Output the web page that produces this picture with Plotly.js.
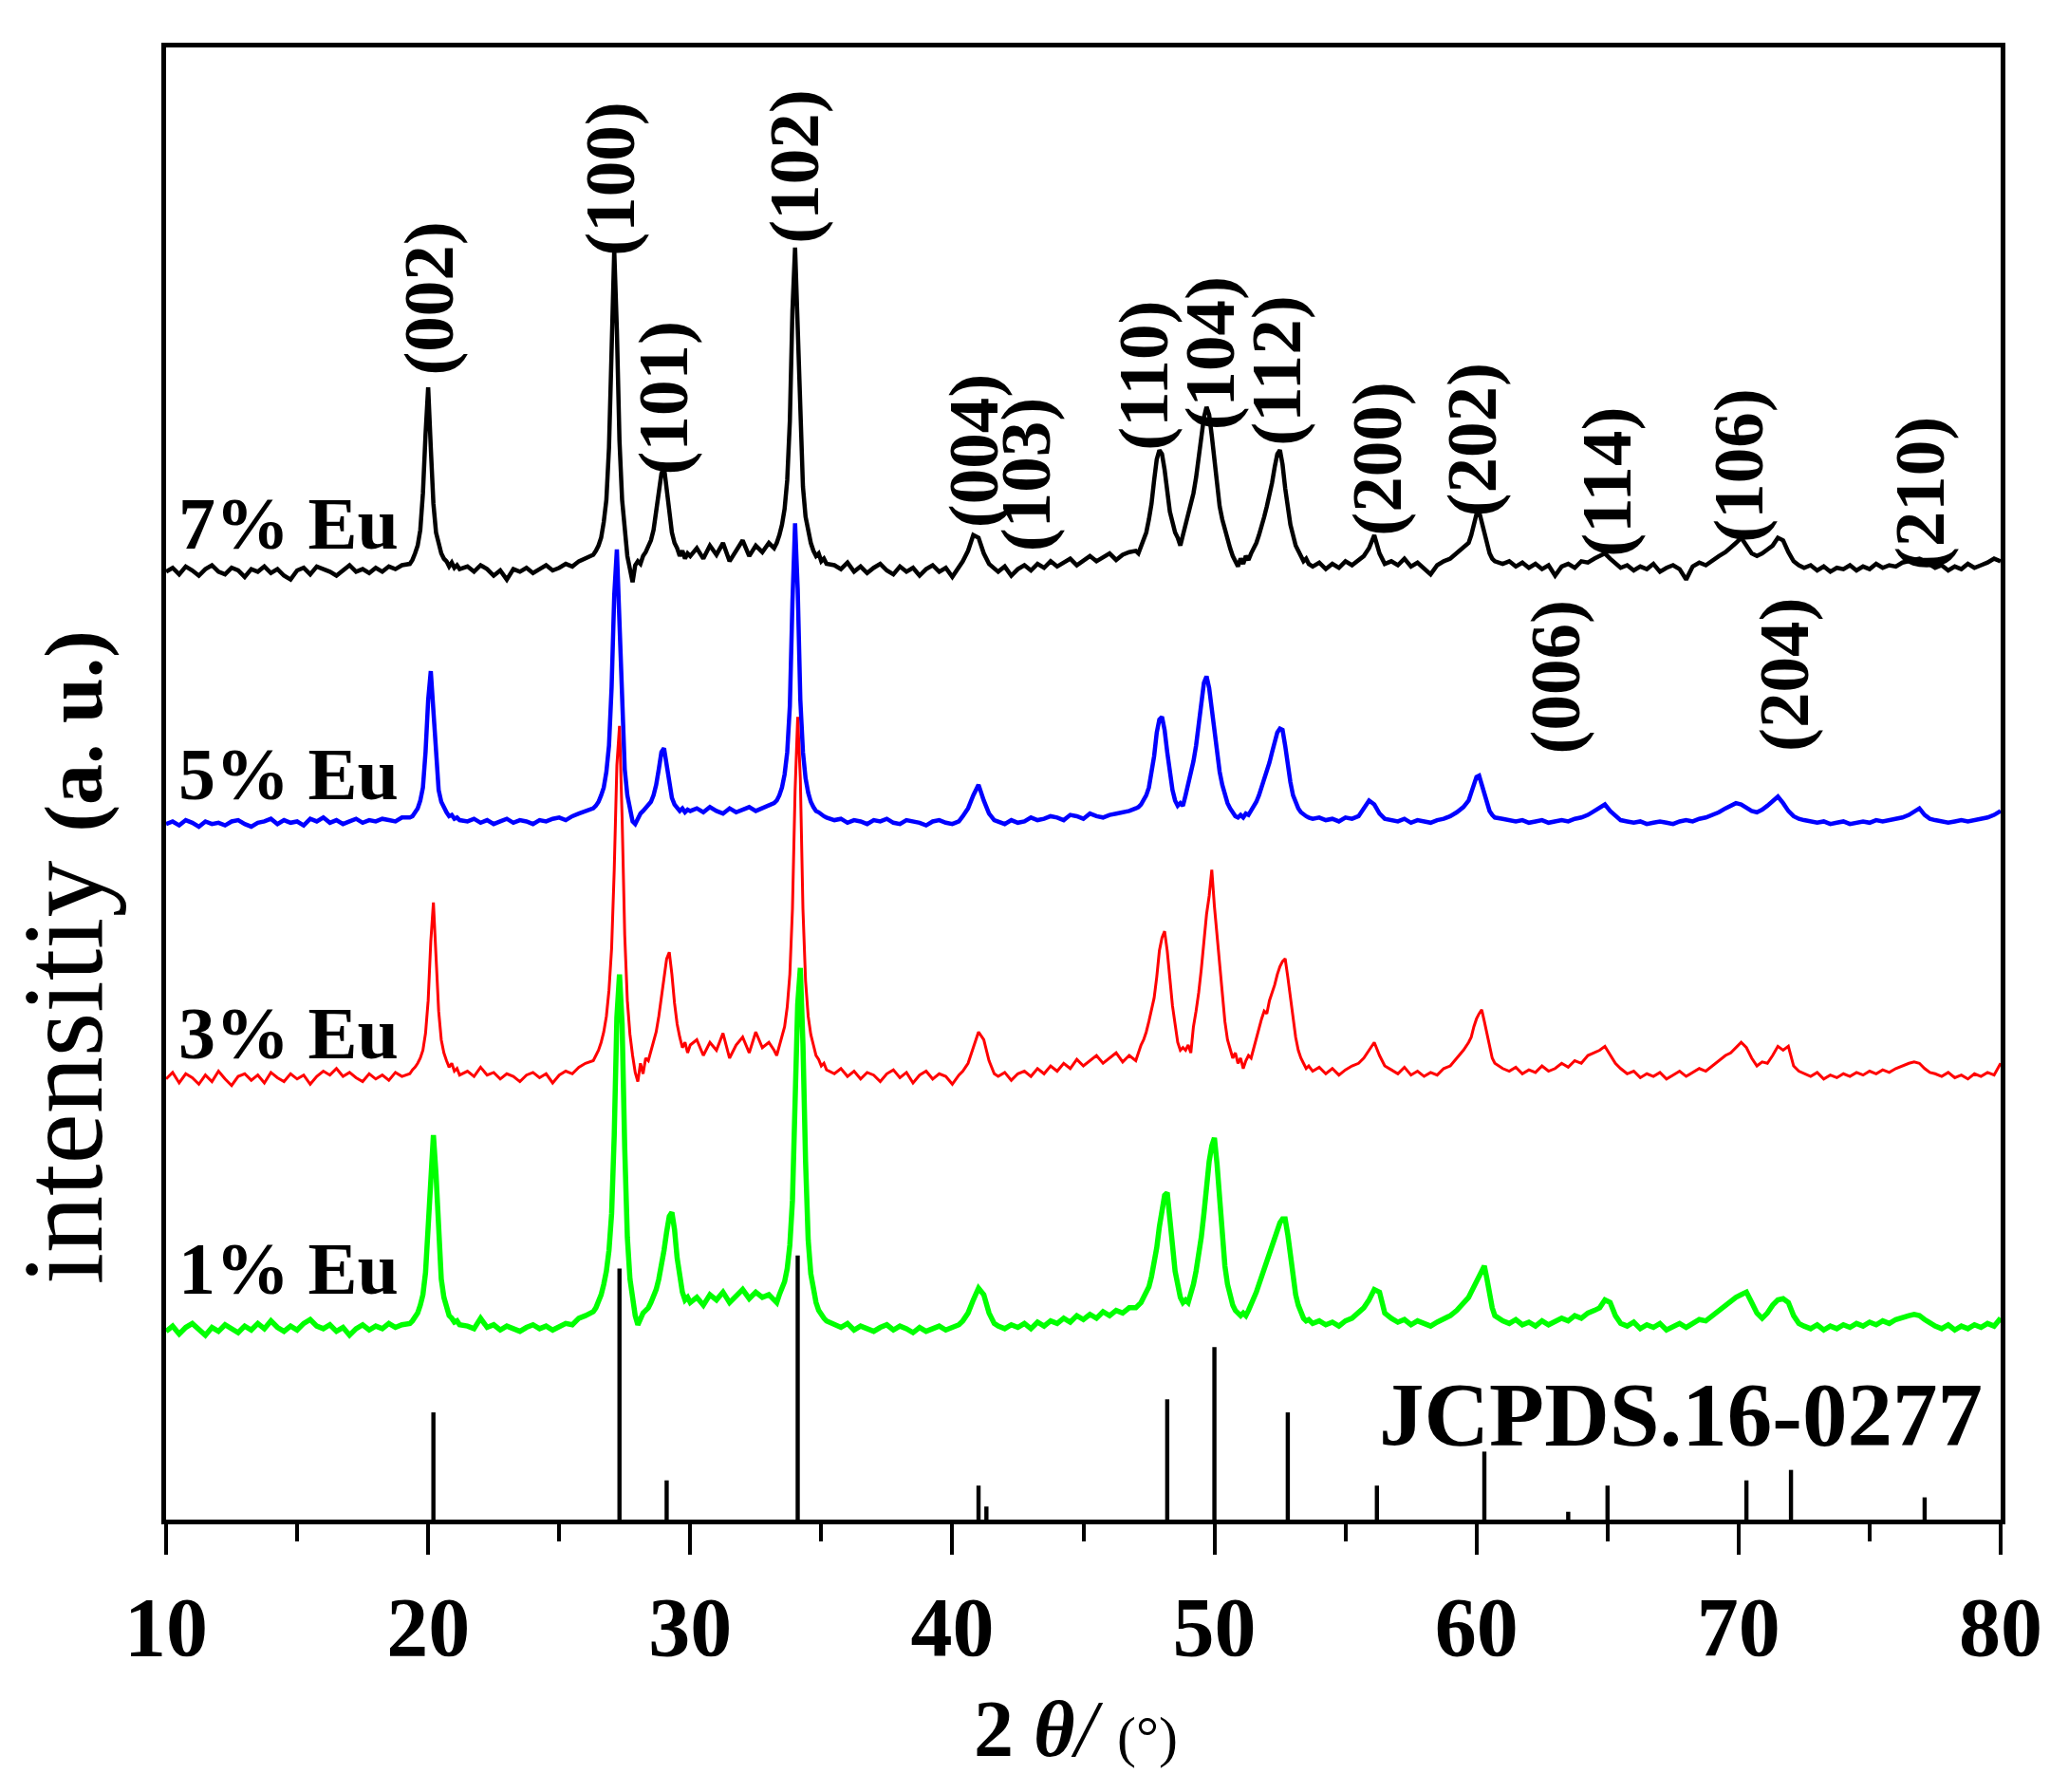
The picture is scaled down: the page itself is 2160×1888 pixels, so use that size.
<!DOCTYPE html>
<html>
<head>
<meta charset="utf-8">
<script src="https://cdn.plot.ly/plotly-3.0.1.min.js"></script>
<style>
  html, body { margin: 0; padding: 0; background: #fff; }
  #xrd { width: 2160px; height: 1888px; }
</style>
</head>
<body>
<div id="xrd"></div>
<script>
// 2theta grid (deg), denser around the reflections
const twoTheta = [
  10, 10.25, 10.5, 10.75, 11, 11.25, 11.5, 11.75, 12, 12.25, 12.5, 12.75, 13, 13.25, 13.5, 13.75, 14, 14.25, 14.5, 14.75, 15, 15.25, 15.5, 15.75, 16, 16.25, 16.5, 16.75, 17, 17.25, 17.5, 17.75, 18, 18.25, 18.5, 18.75, 19,
  19.3, 19.4, 19.5, 19.6, 19.7, 19.8, 19.9, 20, 20.1, 20.2, 20.3, 20.4, 20.5, 20.6, 20.7, 20.8, 20.9, 21, 21.1, 21.2,
  21.5, 21.75, 22, 22.25, 22.5, 22.75, 23, 23.25, 23.5, 23.75, 24, 24.25, 24.5, 24.75, 25, 25.25, 25.5, 25.75, 26,
  26.3, 26.4, 26.5, 26.6, 26.7, 26.8, 26.9, 27, 27.1, 27.2, 27.3, 27.4, 27.5, 27.6, 27.7, 27.8, 27.9, 28, 28.1, 28.2, 28.3, 28.4, 28.5, 28.6, 28.7, 28.8, 28.9, 29, 29.1, 29.2, 29.3, 29.4, 29.5, 29.6, 29.7, 29.8, 29.9, 30,
  30.25, 30.5, 30.75, 31, 31.25, 31.5, 31.75, 32, 32.25, 32.5, 32.75, 33,
  33.2, 33.3, 33.4, 33.5, 33.6, 33.7, 33.8, 33.9, 34, 34.1, 34.2, 34.3, 34.4, 34.5, 34.6, 34.7, 34.8, 34.9, 35, 35.1, 35.2,
  35.5, 35.75, 36, 36.25, 36.5, 36.75, 37, 37.25, 37.5, 37.75, 38, 38.25, 38.5, 38.75, 39, 39.25, 39.5, 39.75, 40, 40.25,
  40.4, 40.6, 40.8, 41, 41.2, 41.4, 41.6,
  41.75, 42, 42.25, 42.5, 42.75, 43, 43.25, 43.5, 43.75, 44, 44.25, 44.5, 44.75, 45, 45.25, 45.5, 45.75, 46, 46.25, 46.5, 46.75,
  47, 47.1, 47.2, 47.3, 47.4, 47.5, 47.6, 47.7, 47.8, 47.9, 48, 48.1, 48.2, 48.3, 48.4, 48.5, 48.6, 48.7, 48.8, 48.9,
  49, 49.1, 49.2, 49.3, 49.4, 49.5, 49.6, 49.7, 49.8, 49.9, 50, 50.1, 50.2, 50.3, 50.4, 50.5, 50.6, 50.7, 50.8, 50.9,
  51, 51.1, 51.2, 51.3, 51.4, 51.5, 51.6, 51.7, 51.8, 51.9, 52, 52.1, 52.2, 52.3, 52.4, 52.5, 52.6, 52.7, 52.8, 52.9,
  53, 53.1, 53.2, 53.3, 53.4, 53.5, 53.6,
  53.75, 54, 54.25, 54.5, 54.75, 55, 55.25, 55.5,
  55.7, 55.9, 56.1, 56.3, 56.5,
  56.75, 57, 57.25, 57.5, 57.75, 58, 58.25, 58.5, 58.75, 59, 59.25, 59.5,
  59.7, 59.8, 59.9, 60, 60.1, 60.2, 60.3, 60.4, 60.5, 60.6, 60.7,
  61, 61.25, 61.5, 61.75, 62, 62.25, 62.5, 62.75, 63, 63.25, 63.5, 63.75, 64, 64.25, 64.5,
  64.7, 64.9, 65.1, 65.3,
  65.5, 65.75, 66, 66.25, 66.5, 66.75, 67, 67.25, 67.5, 67.75, 68, 68.25, 68.5, 68.75, 69, 69.25, 69.5,
  69.7, 69.9, 70.1, 70.3, 70.5, 70.7, 70.9, 71.1, 71.3, 71.5, 71.7, 71.9, 72.1, 72.3,
  72.5, 72.75, 73, 73.25, 73.5, 73.75, 74, 74.25, 74.5, 74.75, 75, 75.25, 75.5, 75.75, 76, 76.25, 76.5,
  76.7, 76.9, 77.1, 77.3,
  77.5, 77.75, 78, 78.25, 78.5, 78.75, 79, 79.25, 79.5, 79.75, 80
];

// intensity above each pattern's own baseline (a.u.)
const eu7 = [
  0,3,-2,4,1,-3,2,5,0,-2,3,1,-4,2,0,4,-1,2,-3,-6,1,3,-2,4,2,0,-3,1,5,0,2,-1,3,0,4,2,5,
  6,9,14,20,32,60,105,141,95,52,30,20,14,10,8,4,7,3,5,2,
  4,0,5,2,-3,1,-6,2,0,3,-1,2,5,1,3,6,4,8,10,
  13,16,20,26,38,55,95,170,246,185,100,55,30,12,2,-8,5,8,6,12,15,20,24,32,45,62,75,80,62,42,30,22,18,12,16,10,14,12,
  18,10,20,13,22,8,16,24,12,20,15,22,
  18,22,28,36,48,70,115,200,248,190,110,65,42,30,22,16,12,14,8,10,6,
  5,2,7,0,4,-1,3,6,1,-2,4,0,3,-3,2,5,0,3,-4,4,
  8,16,28,26,14,6,2,
  0,4,-3,2,5,1,6,3,8,4,7,10,5,9,12,8,11,14,9,13,15,
  16,14,20,24,30,40,52,70,86,93,90,78,60,46,38,30,26,20,28,36,
  44,52,60,72,88,105,118,126,120,104,84,66,50,40,32,24,18,12,8,4,
  10,6,12,9,14,18,22,28,34,42,50,58,68,80,90,93,82,64,48,36,
  28,20,16,12,8,10,6,
  4,7,2,6,3,8,5,9,
  12,18,28,14,6,
  8,5,10,4,7,3,-2,5,8,10,14,18,
  22,28,36,44,46,38,28,20,14,10,8,
  6,8,4,7,3,6,2,5,-3,4,6,3,8,7,10,
  12,14,10,6,
  3,5,1,4,2,6,0,3,5,2,-6,4,7,5,9,12,15,
  18,22,26,20,14,12,14,17,20,26,24,15,8,5,
  3,5,1,4,0,3,2,5,1,4,2,6,3,5,4,7,8,
  9,10,8,5,
  3,5,1,4,2,6,3,5,7,10,8
];

const eu5 = [
  0,2,-1,3,1,-2,2,0,1,-1,2,3,0,-2,1,2,4,0,3,1,2,-1,4,2,5,1,3,0,2,4,1,3,2,4,3,2,5,
  5,6,9,12,18,28,55,95,117,85,45,26,17,12,9,6,7,4,5,3,
  2,4,1,3,0,2,4,1,3,2,0,3,2,4,5,3,6,8,10,
  12,14,17,22,28,40,60,105,175,210,150,80,42,22,10,2,0,4,8,10,12,14,17,22,30,42,55,58,45,30,20,15,12,10,12,9,11,10,
  12,9,13,10,8,12,9,11,13,10,12,14,
  16,18,22,28,38,55,90,170,230,180,95,55,35,24,17,13,10,9,7,6,5,
  3,4,1,3,2,0,3,2,4,1,0,3,2,1,-1,2,3,1,0,2,
  6,12,22,30,18,8,3,
  2,0,3,1,2,5,3,4,6,5,3,7,6,4,8,6,5,7,8,9,10,
  12,13,15,18,22,28,38,52,70,80,82,72,55,38,26,18,14,16,14,22,
  30,38,48,60,76,92,108,113,104,88,70,54,40,30,22,16,12,9,6,5,
  7,5,8,7,10,13,17,22,28,34,40,47,55,63,70,73,72,60,44,32,
  22,16,12,9,7,6,5,
  4,5,3,4,2,5,4,6,
  12,18,15,8,4,
  3,2,4,1,3,2,1,3,4,6,9,13,
  18,24,30,36,37,30,22,15,10,7,5,
  4,3,2,3,1,2,3,1,2,3,2,4,5,7,10,
  13,15,10,6,
  3,2,1,2,0,1,2,1,0,2,3,2,4,5,7,9,12,
  14,16,15,12,10,9,11,14,18,21,16,10,6,4,
  3,2,1,2,0,1,2,0,1,2,1,3,2,3,4,5,7,
  10,12,7,4,
  3,2,1,2,3,2,3,4,5,7,10
];

const eu3 = [
  0,5,-3,4,1,-4,3,-2,6,0,-5,2,4,-1,3,-3,5,1,-2,4,0,3,-4,2,6,3,8,2,5,1,-2,4,0,3,-1,5,2,
  4,7,9,12,16,22,35,60,105,135,95,52,30,20,14,9,12,6,8,3,
  6,2,9,3,5,0,4,2,-2,3,5,1,4,-3,3,6,4,9,12,
  14,18,22,28,36,48,68,100,160,240,270,200,110,60,34,18,5,-2,12,4,16,14,22,28,36,48,62,78,92,97,80,58,42,32,24,28,20,26,
  30,18,28,22,35,16,26,32,20,36,24,28,
  22,18,26,32,40,55,80,130,220,277,230,130,75,48,34,26,18,15,10,12,7,
  4,8,2,6,0,5,3,-2,4,7,1,5,-3,3,6,0,4,2,-4,3,
  6,12,24,36,30,14,4,
  2,5,-1,4,6,2,8,4,10,6,12,8,15,10,14,18,12,16,20,13,18,
  14,20,26,30,36,44,52,62,78,98,108,113,98,75,56,42,28,22,24,22,
  26,20,40,52,66,84,108,126,140,160,132,110,84,62,44,30,22,16,20,12,
  16,8,14,18,16,24,30,38,46,52,50,60,66,72,80,86,90,92,78,62,
  46,32,22,16,12,8,10,
  6,9,4,8,3,7,10,12,
  16,22,28,18,10,
  7,4,9,3,6,2,5,3,8,10,16,22,
  28,32,40,46,50,53,44,34,24,16,12,
  8,6,9,4,7,5,10,6,8,12,9,14,12,18,20,
  22,25,18,12,
  8,4,6,1,4,2,5,0,3,6,2,5,8,6,10,14,18,
  20,24,28,24,16,10,13,12,18,25,22,25,10,6,
  4,2,5,0,3,1,4,2,5,3,6,4,7,5,8,10,12,
  13,12,8,5,
  4,2,5,1,3,0,4,2,5,3,12
];

const eu1 = [
  0,4,-2,3,6,1,-3,3,0,5,2,-1,4,1,6,2,8,3,0,4,1,6,9,4,2,5,0,3,-3,2,5,1,4,2,6,3,5,
  6,8,11,14,20,28,45,80,128,150,120,70,40,26,18,12,10,7,8,5,
  4,2,10,3,5,1,4,2,0,3,5,2,4,1,3,6,5,10,12,
  15,18,22,28,36,46,62,90,150,240,273,235,140,72,40,24,12,5,10,14,16,18,22,26,32,40,50,62,76,88,91,78,56,40,30,24,26,22,
  26,20,28,24,30,22,27,32,25,30,26,28,
  24,22,28,32,38,48,66,100,170,250,278,220,130,70,44,30,22,16,12,10,8,
  5,3,6,1,4,2,0,3,5,1,4,2,-1,3,0,2,4,1,3,5,
  8,14,24,33,28,14,6,
  4,2,5,3,6,2,7,4,8,6,10,7,12,9,13,10,15,12,16,14,18,
  18,20,22,26,30,34,42,52,64,80,96,104,106,90,66,46,34,26,22,24,
  22,28,36,46,58,72,90,112,130,142,148,128,100,72,50,36,26,20,16,14,
  12,14,12,16,20,26,30,36,42,48,54,60,66,72,78,83,86,86,74,56,
  40,28,20,14,10,8,9,
  6,8,5,7,4,8,10,14,
  18,24,32,30,14,
  10,7,9,5,8,6,4,7,9,12,16,22,
  26,30,34,38,44,48,50,40,28,18,12,
  8,6,9,5,7,4,8,5,7,10,8,12,10,14,16,
  18,24,22,12,
  6,4,7,2,5,3,6,1,4,6,3,6,9,8,12,16,20,
  22,26,28,30,22,14,10,14,20,24,25,22,12,6,
  4,2,5,1,4,2,5,3,6,4,7,5,8,6,9,10,12,
  13,12,9,6,
  4,2,5,1,4,2,5,3,6,4,10
];

// vertical stacking of the four patterns
const offset7 = 725, offset5 = 532, offset3 = 337, offset1 = 144;

// JCPDS 16-0277 reference lines
const refPos = [20.2, 27.3, 29.1, 34.1, 41.0, 41.3, 48.2, 50.0, 52.8, 56.2, 60.3, 63.5, 65.0, 70.3, 72.0, 77.1];
const refInt = [82, 192, 30, 202, 26, 10, 92, 132, 82, 26, 52, 6, 26, 30, 38, 17];

// Miller indices and where they sit
const hklText = ['(002)', '(100)', '(101)', '(102)', '(004)', '(103)', '(110)', '(104)', '(112)', '(200)', '(202)', '(114)', '(106)', '(210)', '(006)', '(204)'];
const hklX = [20.0, 26.9, 28.95, 33.95, 40.8, 42.8, 47.3, 49.8, 52.35, 56.2, 59.8, 64.95, 70.0, 76.9, 63.0, 71.7];
const hklY = [934, 1025, 858, 1035, 817, 799, 875, 892, 879, 811, 826, 794, 806, 785, 644, 646];

const sampleNames = ['7% Eu', '5% Eu', '3% Eu', '1% Eu'];
const sampleLabelY = [762, 570, 372, 192];

[eu7, eu5, eu3, eu1].forEach(function (s, i) {
    if (s.length !== twoTheta.length) {
        throw new Error('series ' + i + ' has ' + s.length + ' points, grid has ' + twoTheta.length);
    }
});

function stacked(values, off) {
    return values.map(function (v) { return v + off; });
}

const SERIF = 'Liberation Serif, Times New Roman, serif';

let black7 = {
    x: twoTheta, y: stacked(eu7, offset7),
    mode: 'lines', line: {color: '#000000', width: 4.5}, name: '7% Eu'
};
let blue5 = {
    x: twoTheta, y: stacked(eu5, offset5),
    mode: 'lines', line: {color: '#0000ff', width: 4.5}, name: '5% Eu'
};
let red3 = {
    x: twoTheta, y: stacked(eu3, offset3),
    mode: 'lines', line: {color: '#ff0000', width: 3}, name: '3% Eu'
};
let green1 = {
    x: twoTheta, y: stacked(eu1, offset1),
    mode: 'lines', line: {color: '#00ff00', width: 5.5}, name: '1% Eu'
};
let sticks = {
    type: 'bar', x: refPos, y: refInt, width: 0.16,
    marker: {color: '#000000', line: {width: 0}}, name: 'JCPDS.16-0277'
};

let annotations = [];
hklText.forEach(function (t, i) {
    annotations.push({
        x: hklX[i], y: hklY[i], xref: 'x', yref: 'y',
        text: '<b>' + t + '</b>', textangle: -90, showarrow: false,
        xanchor: 'center', yanchor: 'middle',
        font: {family: SERIF, size: 75, color: '#000'}
    });
});
sampleNames.forEach(function (t, i) {
    annotations.push({
        x: 10.4, y: sampleLabelY[i], xref: 'x', yref: 'y',
        text: '<b>' + t + '</b>', showarrow: false,
        xanchor: 'left', yanchor: 'middle',
        font: {family: SERIF, size: 78, color: '#000'}
    });
});
annotations.push({
    x: 79.4, y: 80, xref: 'x', yref: 'y',
    text: '<b>JCPDS.16-0277</b>', showarrow: false,
    xanchor: 'right', yanchor: 'middle',
    font: {family: SERIF, size: 95, color: '#000'}
});
// axis titles
annotations.push({
    x: -0.056, y: 0.382, xref: 'paper', yref: 'paper',
    text: 'intensitiy <b><span style="font-size:86px">(a. u.)</span></b>',
    textangle: -90, showarrow: false, xanchor: 'center', yanchor: 'middle',
    font: {family: SERIF, size: 120, color: '#000'}
});
annotations.push({
    x: 0.496, y: -0.142, xref: 'paper', yref: 'paper',
    text: '<b>2 <i>θ</i></b><i>/</i> <span style="font-size:60px">(°)</span>',
    showarrow: false, xanchor: 'center', yanchor: 'middle',
    font: {family: SERIF, size: 84, color: '#000'}
});

let layout = {
    width: 2160, height: 1888,
    margin: {l: 175, r: 52, t: 50, b: 287},
    paper_bgcolor: '#ffffff', plot_bgcolor: '#ffffff',
    showlegend: false,
    hovermode: false,
    xaxis: {
        range: [10, 80], tick0: 10, dtick: 10,
        ticks: 'outside', ticklen: 32, tickwidth: 4, tickcolor: '#000',
        showline: true, linewidth: 5, linecolor: '#000', mirror: true,
        showgrid: false, zeroline: false,
        tickfont: {family: SERIF, size: 88, color: '#000', weight: 'bold'},
        minor: {dtick: 5, ticks: 'outside', ticklen: 18, tickwidth: 4, tickcolor: '#000', showgrid: false}
    },
    yaxis: {
        range: [0, 1126], showticklabels: false, ticks: '',
        showline: true, linewidth: 5, linecolor: '#000', mirror: true,
        showgrid: false, zeroline: false
    },
    annotations: annotations
};

Plotly.newPlot('xrd', [black7, blue5, red3, green1, sticks], layout, {displayModeBar: false, staticPlot: true});
</script>
</body>
</html>
